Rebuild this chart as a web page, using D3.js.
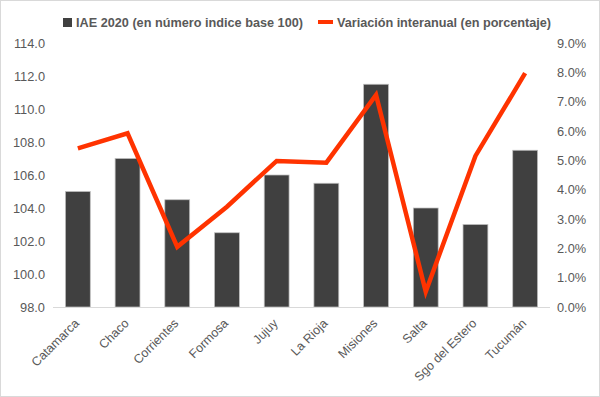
<!DOCTYPE html>
<html>
  <head>
    <meta http-equiv="Content-Type" content="text/html;charset=utf-8">
    <title>IAE 2020</title>
    <script src="https://d3js.org/d3.v7.min.js"></script>
    <style>
      html, body {
        margin: 0;
        padding: 0;
        background: #fff;
      }
      text {
        font-family: "Liberation Sans", Arial, sans-serif;
        fill: #595959;
      }
    </style>
  </head>
  <body>
    <script type="text/javascript">

var provincias = ["Catamarca", "Chaco", "Corrientes", "Formosa", "Jujuy",
                  "La Rioja", "Misiones", "Salta", "Sgo del Estero", "Tucumán"];
var iae = [105.0, 107.0, 104.5, 102.5, 106.0, 105.5, 111.5, 104.0, 103.0, 107.5];
var variacion = [5.41, 5.92, 2.05, 3.42, 4.98, 4.92, 7.23, 0.52, 5.15, 7.97];
var ticksIzq = [98, 100, 102, 104, 106, 108, 110, 112, 114];
var ticksDer = [0, 1, 2, 3, 4, 5, 6, 7, 8, 9];

var W = 600, H = 397;
var m = {left: 53, right: 50, top: 43, bottom: 90};

var svg = d3.select("body").append("svg")
    .attr("width", W)
    .attr("height", H);

svg.append("rect")
    .attr("x", 0.5).attr("y", 0.5)
    .attr("width", W - 1).attr("height", H - 1)
    .attr("fill", "#fff")
    .attr("stroke", "#d9d9d9");

var x = d3.scaleBand()
    .domain(provincias)
    .range([m.left, W - m.right])
    .paddingInner(0.5)
    .paddingOuter(0.25);

var yL = d3.scaleLinear().domain([98, 114]).range([H - m.bottom, m.top]);
var yR = d3.scaleLinear().domain([0, 9]).range([H - m.bottom, m.top]);

// eje izquierdo
var axL = svg.append("g")
    .attr("transform", "translate(" + m.left + ",0)")
    .call(d3.axisLeft(yL).tickValues(ticksIzq).tickFormat(d3.format(".1f")).tickSize(0).tickPadding(8));
axL.select(".domain").remove();
axL.selectAll("text").style("font-size", "12.8px").attr("fill", "#595959");

// eje derecho
var axR = svg.append("g")
    .attr("transform", "translate(" + (W - m.right) + ",0)")
    .call(d3.axisRight(yR).tickValues(ticksDer).tickFormat(function(d) { return d.toFixed(1) + "%"; }).tickSize(0).tickPadding(7));
axR.select(".domain").remove();
axR.selectAll("text").style("font-size", "12.8px").attr("fill", "#595959");

// barras
svg.selectAll("rect.bar")
    .data(provincias)
    .enter().append("rect")
    .attr("class", "bar")
    .attr("x", function(d) { return x(d); })
    .attr("width", x.bandwidth())
    .attr("y", function(d, i) { return yL(iae[i]); })
    .attr("height", function(d, i) { return yL(98) - yL(iae[i]); })
    .attr("fill", "#404040")
    .attr("stroke", "#bfbfbf")
    .attr("stroke-width", 0.75);

// eje x
svg.append("line")
    .attr("x1", m.left).attr("x2", W - m.right)
    .attr("y1", yL(98) + 0.5).attr("y2", yL(98) + 0.5)
    .attr("stroke", "#d9d9d9");

var axX = svg.append("g")
    .attr("transform", "translate(0," + (H - m.bottom) + ")")
    .call(d3.axisBottom(x).tickSize(0).tickPadding(0));
axX.select(".domain").remove();
axX.selectAll("text")
    .style("font-size", "12.5px")
    .attr("fill", "#595959")
    .attr("text-anchor", "end")
    .attr("y", 0)
    .attr("dy", 0)
    .attr("transform", "translate(2,17) rotate(-45)");

// línea
var linea = d3.line()
    .x(function(d, i) { return x(provincias[i]) + x.bandwidth() / 2; })
    .y(function(d) { return yR(d); });

svg.append("path")
    .datum(variacion)
    .attr("d", linea)
    .attr("fill", "none")
    .attr("stroke", "#ff3300")
    .attr("stroke-width", 4.5)
    .attr("stroke-linejoin", "miter");

// leyenda
var ley = svg.append("g").style("font-size", "12.7px").style("font-weight", "bold");
ley.append("rect").attr("x", 63).attr("y", 18).attr("width", 9).attr("height", 9).attr("fill", "#404040");
ley.append("text").attr("x", 76).attr("y", 27).attr("textLength", 227).text("IAE 2020 (en número indice base 100)");
ley.append("rect").attr("x", 318).attr("y", 20).attr("width", 15).attr("height", 4).attr("fill", "#ff3300");
ley.append("text").attr("x", 337).attr("y", 27).attr("textLength", 214).text("Variación interanual (en porcentaje)");

    </script>
  </body>
</html>
